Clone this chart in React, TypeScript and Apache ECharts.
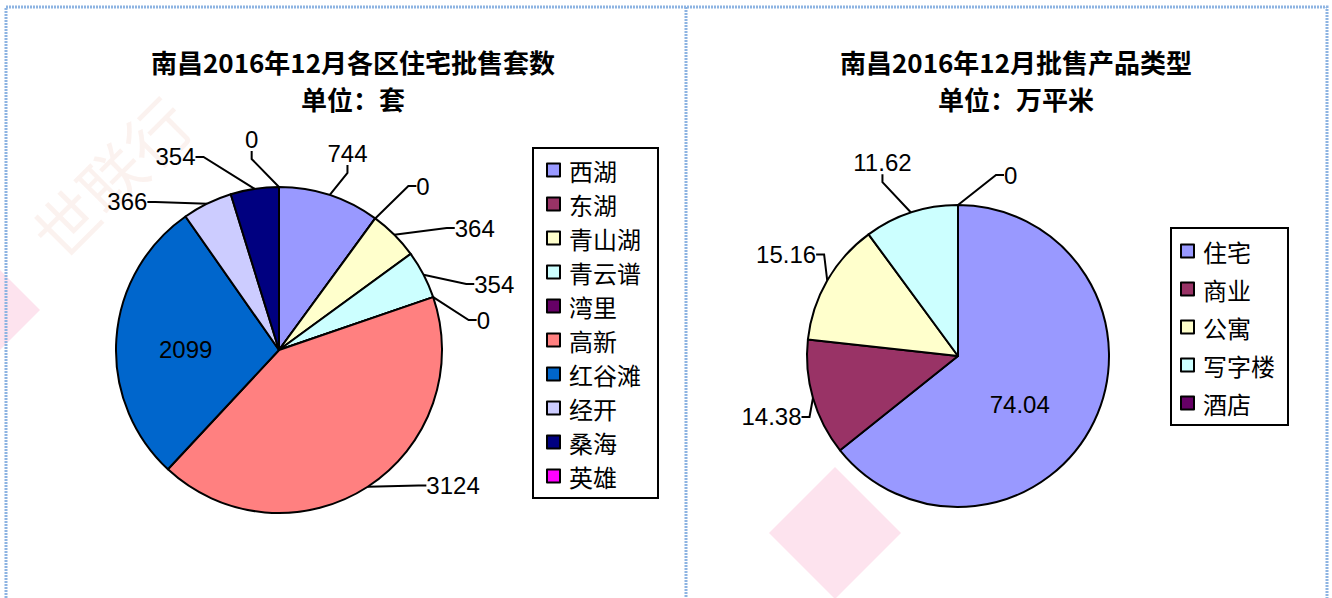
import React, { useEffect, useRef } from "react";
import * as echarts from "echarts";

const districtNames = ["西湖", "东湖", "青山湖", "青云谱", "湾里", "高新", "红谷滩", "经开", "桑海", "英雄"];
const districtValues = [744, 0, 364, 354, 0, 3124, 2099, 366, 354, 0];
const typeNames = ["住宅", "商业", "公寓", "写字楼", "酒店"];
const typeValues = [74.04, 14.38, 15.16, 11.62, 0];
const palette = ["#9999FF", "#993366", "#FFFFCC", "#CCFFFF", "#660066", "#FF8080", "#0066CC", "#CCCCFF", "#000080", "#FF00FF"];
const leftTitle = ["南昌2016年12月各区住宅批售套数", "单位：套"];
const rightTitle = ["南昌2016年12月批售产品类型", "单位：万平米"];

// label nudges (pixels) relative to ECharts' default outside placement
const leftLabelNudge = [[-52, -46], [4, -39], [21, -23], [26, 7], [19, 17], [38, -13], [-9, 5], [-27, 1], [-44, -18], [-47, -34]];
const rightLabelNudge = [[-9, 14], [15, 15], [14, -19], [18, -37], [33, -16]];

const CJK = '"Noto Sans CJK SC", sans-serif';
const NUM = '"Liberation Sans", Arial, sans-serif';

function buildData(names: string[], values: number[], insideIdx: number) {
  return names.map((n, i) => ({
    name: n,
    value: values[i],
    itemStyle: { color: palette[i] },
    ...(i === insideIdx
      ? { label: { position: "inside" }, labelLine: { show: false } }
      : {}),
  }));
}

export default function App() {
  const ref = useRef<HTMLDivElement>(null);
  useEffect(() => {
    if (!ref.current) return;
    const chart = echarts.init(ref.current, undefined, { renderer: "svg" });
    const border = { fill: "none", stroke: "#8DB4E2", lineWidth: 3, lineDash: [2, 1] };
    const titleFont = `bold 26px ${CJK}`;
    const pieCommon = {
      type: "pie",
      clockwise: true,
      startAngle: 90,
      avoidLabelOverlap: true,
      itemStyle: { borderColor: "#000", borderWidth: 2 },
      label: { color: "#000", fontSize: 24, fontFamily: NUM, formatter: "{c}" },
      labelLine: { show: true, length: 14, length2: 8, lineStyle: { color: "#000", width: 2 } },
      emphasis: { disabled: true },
    };
    const legendCommon = {
      orient: "vertical",
      icon: "rect",
      itemWidth: 13,
      itemHeight: 13,
      selectedMode: false,
      borderColor: "#000",
      borderWidth: 2,
      itemStyle: { borderColor: "#000", borderWidth: 2 },
      textStyle: { fontSize: 24, fontFamily: CJK, color: "#000", lineHeight: 24, padding: [0, 0, 0, 4] },
    };
    const nudge = (table: number[][]) => (p: any) => {
      const o = table[p.dataIndex];
      if (!o) return {};
      const r = p.labelRect;
      const ax = p.align === "right" ? r.x + r.width : p.align === "center" ? r.x + r.width / 2 : r.x;
      const ay = p.verticalAlign === "top" ? r.y : p.verticalAlign === "bottom" ? r.y + r.height : r.y + r.height / 2;
      return { x: ax + o[0], y: ay + o[1] };
    };
    chart.setOption({
      animation: false,
      backgroundColor: "#fff",
      graphic: [
        { type: "polygon", silent: true, z: -5, shape: { points: [[835, 467], [901, 533], [835, 599], [769, 533]] }, style: { fill: "#FDE3EE" } },
        { type: "polygon", silent: true, z: -5, shape: { points: [[-25, 245], [40, 310], [-25, 375], [-90, 310]] }, style: { fill: "#FDE3EE" } },
        { type: "text", silent: true, z: -5, x: 110, y: 176, rotation: Math.PI / 4, style: { text: "世联行", fill: "rgba(225,160,140,0.14)", font: `64px ${CJK}`, textAlign: "center", textVerticalAlign: "middle" } },
        { type: "rect", silent: true, z: -4, shape: { x: 6, y: 7, width: 1321, height: 620 }, style: border },
        { type: "line", silent: true, z: -4, shape: { x1: 686, y1: 7, x2: 686, y2: 600 }, style: border },
        { type: "text", x: 353, y: 61, style: { text: leftTitle[0], font: titleFont, fill: "#000", textAlign: "center", textVerticalAlign: "middle" } },
        { type: "text", x: 353, y: 98, style: { text: leftTitle[1], font: titleFont, fill: "#000", textAlign: "center", textVerticalAlign: "middle" } },
        { type: "text", x: 1016, y: 61, style: { text: rightTitle[0], font: titleFont, fill: "#000", textAlign: "center", textVerticalAlign: "middle" } },
        { type: "text", x: 1016, y: 98, style: { text: rightTitle[1], font: titleFont, fill: "#000", textAlign: "center", textVerticalAlign: "middle" } },
      ],
      legend: [
        { ...legendCommon, data: districtNames, left: 533, top: 148, itemGap: 10, padding: [10, 17, 10, 13] },
        { ...legendCommon, data: typeNames, left: 1171, top: 228, itemGap: 14, padding: [11, 13, 10, 9] },
      ],
      series: [
        { ...pieCommon, name: "district", center: [279, 350], radius: 163, data: buildData(districtNames, districtValues, 6), labelLayout: nudge(leftLabelNudge) },
        { ...pieCommon, name: "type", center: [958, 356], radius: 151, data: buildData(typeNames, typeValues, 0), labelLayout: nudge(rightLabelNudge) },
      ],
    });
    return () => chart.dispose();
  }, []);
  return <div ref={ref} style={{ position: "fixed", left: 0, top: 0, width: 1332, height: 598 }} />;
}
